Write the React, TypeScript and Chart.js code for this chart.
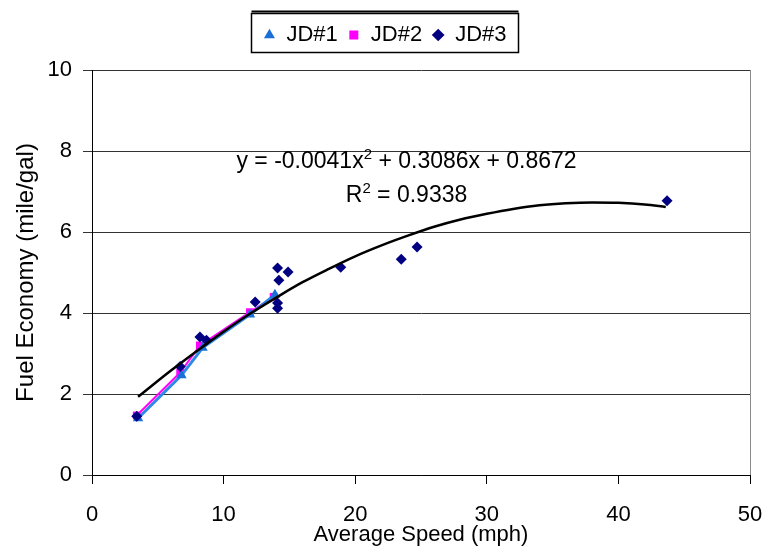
import React, { useEffect, useRef } from 'react';
import { Chart, registerables } from 'chart.js';

Chart.register(...registerables);

// ---- data ----
const jd1Speed = [3.5, 6.8, 8.4, 12.0, 13.9];
const jd1Economy = [1.4, 2.46, 3.14, 3.96, 4.45];

const jd2Speed = [3.4, 6.7, 8.2, 12.0, 13.8];
const jd2Economy = [1.47, 2.53, 3.2, 4.02, 4.4];

const jd3Speed = [3.4, 6.7, 8.2, 8.7, 12.4, 14.1, 14.9, 14.2, 14.1, 14.1, 18.9, 23.5, 24.7, 43.7];
const jd3Economy = [1.45, 2.68, 3.41, 3.33, 4.27, 5.11, 5.01, 4.81, 4.25, 4.12, 5.13, 5.33, 5.63, 6.77];

// polynomial trendline as drawn in the reference
const trendSpeed = [3.5, 6, 8, 10, 12, 14, 16, 18, 20, 22, 24, 26, 28, 30, 32, 34, 36, 38, 40, 42, 43.6];
const trendEconomy = [1.93, 2.58, 3.07, 3.54, 3.98, 4.38, 4.76, 5.09, 5.4, 5.67, 5.91, 6.13, 6.31, 6.45, 6.57, 6.66, 6.71, 6.73, 6.72, 6.68, 6.62];

const xTicks = [0, 10, 20, 30, 40, 50];
const yTicks = [0, 2, 4, 6, 8, 10];

const seriesNames = ['JD#1', 'JD#2', 'JD#3'];
const xTitle = 'Average Speed (mph)';
const yTitle = 'Fuel Economy (mile/gal)';

const equationParts = ['y = -0.0041x', '2', ' + 0.3086x + 0.8672'];
const r2Parts = ['R', '2', ' = 0.9338'];
// label anchor (data units): centre x, baselines y
const labelAnchorX = 23.9;
const equationBaselineY = 7.58;
const r2BaselineY = 6.74;

const FONT = "'Liberation Sans', Arial, sans-serif";

const toPoints = (xs: number[], ys: number[]) => xs.map((x, i) => ({ x, y: ys[i] }));

function drawSupText(ctx: CanvasRenderingContext2D, parts: string[], cx: number, baseline: number) {
  const main = `23px ${FONT}`;
  const sup = `15px ${FONT}`;
  ctx.font = main;
  const w0 = ctx.measureText(parts[0]).width;
  const w2 = ctx.measureText(parts[2]).width;
  ctx.font = sup;
  const w1 = ctx.measureText(parts[1]).width;
  let x = cx - (w0 + w1 + w2) / 2;
  ctx.textAlign = 'left';
  ctx.textBaseline = 'alphabetic';
  ctx.fillStyle = '#000';
  ctx.font = main;
  ctx.fillText(parts[0], x, baseline);
  x += w0;
  ctx.font = sup;
  ctx.fillText(parts[1], x, baseline - 9);
  x += w1;
  ctx.font = main;
  ctx.fillText(parts[2], x, baseline);
}

const decorPlugin = {
  id: 'decor',
  afterDatasetsDraw(chart: any) {
    const { ctx, scales } = chart;
    const cx = scales.x.getPixelForValue(labelAnchorX);
    ctx.save();
    drawSupText(ctx, equationParts, cx, scales.y.getPixelForValue(equationBaselineY));
    drawSupText(ctx, r2Parts, cx, scales.y.getPixelForValue(r2BaselineY));
    ctx.restore();
  },
  afterDraw(chart: any) {
    const { ctx, chartArea } = chart;
    ctx.save();
    // right plot border
    ctx.strokeStyle = '#8a8a8a';
    ctx.lineWidth = 1;
    ctx.beginPath();
    ctx.moveTo(Math.round(chartArea.right) + 0.5, chartArea.top);
    ctx.lineTo(Math.round(chartArea.right) + 0.5, chartArea.bottom);
    ctx.stroke();
    // legend frame
    const hb = chart.legend && chart.legend.legendHitBoxes;
    if (hb && hb.length) {
      const first = hb[0];
      const last = hb[hb.length - 1];
      const left = Math.round(first.left - 12) + 0.5;
      const right = Math.round(last.left + last.width + 11) + 0.5;
      const top = Math.round(first.top - 11) + 0.5;
      const bottom = Math.round(first.top + first.height + 6) + 0.5;
      ctx.strokeStyle = '#000';
      ctx.lineWidth = 1.5;
      ctx.strokeRect(left, top, right - left, bottom - top);
      ctx.lineWidth = 2;
      ctx.beginPath();
      ctx.moveTo(left, top - 2);
      ctx.lineTo(right, top - 2);
      ctx.stroke();
    }
    ctx.restore();
  },
};

export default function App() {
  const canvasRef = useRef<HTMLCanvasElement | null>(null);

  useEffect(() => {
    if (!canvasRef.current) return;
    Chart.defaults.font.family = FONT;
    Chart.defaults.color = '#000';

    const chart = new Chart(canvasRef.current, {
      type: 'scatter',
      data: {
        datasets: [
          {
            label: seriesNames[0],
            data: toPoints(jd1Speed, jd1Economy),
            showLine: true,
            borderColor: '#3088e8',
            borderWidth: 3,
            backgroundColor: '#1a6fd8',
            pointStyle: 'triangle',
            pointRadius: 6,
            pointBorderWidth: 0,
            pointBackgroundColor: '#1a6fd8',
            pointBorderColor: '#1a6fd8',
            order: 2,
          },
          {
            label: seriesNames[1],
            data: toPoints(jd2Speed, jd2Economy),
            showLine: true,
            borderColor: '#ff00ff',
            borderWidth: 2,
            backgroundColor: '#ff00ff',
            pointStyle: 'rect',
            pointRadius: 5.5,
            pointBorderWidth: 0,
            pointBackgroundColor: '#ff00ff',
            pointBorderColor: '#ff00ff',
            order: 3,
          },
          {
            label: seriesNames[2],
            data: toPoints(jd3Speed, jd3Economy),
            showLine: false,
            borderColor: '#000080',
            backgroundColor: '#000080',
            pointStyle: 'rectRot',
            pointRadius: 5.5,
            pointBorderWidth: 0,
            pointBackgroundColor: '#000080',
            pointBorderColor: '#000080',
            order: 1,
          },
          {
            label: 'trend',
            data: toPoints(trendSpeed, trendEconomy),
            showLine: true,
            borderColor: '#000',
            borderWidth: 2.5,
            pointRadius: 0,
            tension: 0.4,
            cubicInterpolationMode: 'monotone',
            order: 0,
          },
        ],
      },
      options: {
        responsive: false,
        animation: false,
        events: [],
        layout: { padding: { top: 14, left: 0, right: 0, bottom: 0 } },
        plugins: {
          tooltip: { enabled: false },
          title: {
            display: true,
            text: '',
            weight: 500,
            font: { size: 1, lineHeight: 1 },
            padding: { top: 0, bottom: 13 },
          },
          legend: {
            position: 'top',
            labels: {
              usePointStyle: true,
              boxWidth: 12,
              boxHeight: 9,
              padding: 10,
              color: '#000',
              font: { size: 22, family: FONT },
              filter: (item: any) => item.text !== 'trend',
              sort: (a: any, b: any) => a.datasetIndex - b.datasetIndex,
            },
          },
        },
        scales: {
          x: {
            type: 'linear',
            min: 0,
            max: 50,
            afterBuildTicks: (s: any) => {
              s.ticks = xTicks.map((v) => ({ value: v }));
            },
            afterFit: (s: any) => {
              s.height = 75;
              s.paddingRight = 20;
              s.paddingLeft = 0;
            },
            grid: {
              display: true,
              drawOnChartArea: false,
              drawTicks: true,
              tickLength: 9,
              color: '#000',
            },
            border: { display: true, color: '#000', width: 1 },
            ticks: { font: { size: 22 }, padding: 18, color: '#000', maxRotation: 0 },
            title: {
              display: true,
              text: xTitle,
              font: { size: 22 },
              color: '#000',
              padding: { top: 0, bottom: 2 },
            },
          },
          y: {
            type: 'linear',
            min: 0,
            max: 10,
            afterBuildTicks: (s: any) => {
              s.ticks = yTicks.map((v) => ({ value: v }));
            },
            afterFit: (s: any) => {
              s.width = 92;
            },
            grid: {
              display: true,
              drawOnChartArea: true,
              drawTicks: true,
              tickLength: 9,
              color: '#333',
              lineWidth: 1,
            },
            border: { display: true, color: '#000', width: 1 },
            ticks: { font: { size: 22 }, padding: 11, color: '#000' },
            title: {
              display: true,
              text: yTitle,
              font: { size: 24 },
              color: '#000',
              padding: { top: 12, bottom: 0 },
            },
          },
        },
      },
      plugins: [decorPlugin],
    } as any);

    return () => chart.destroy();
  }, []);

  return (
    <div style={{ position: 'fixed', left: 0, top: 0, width: 770, height: 550, background: '#fff' }}>
      <canvas ref={canvasRef} width={770} height={550} style={{ display: 'block' }} />
    </div>
  );
}
